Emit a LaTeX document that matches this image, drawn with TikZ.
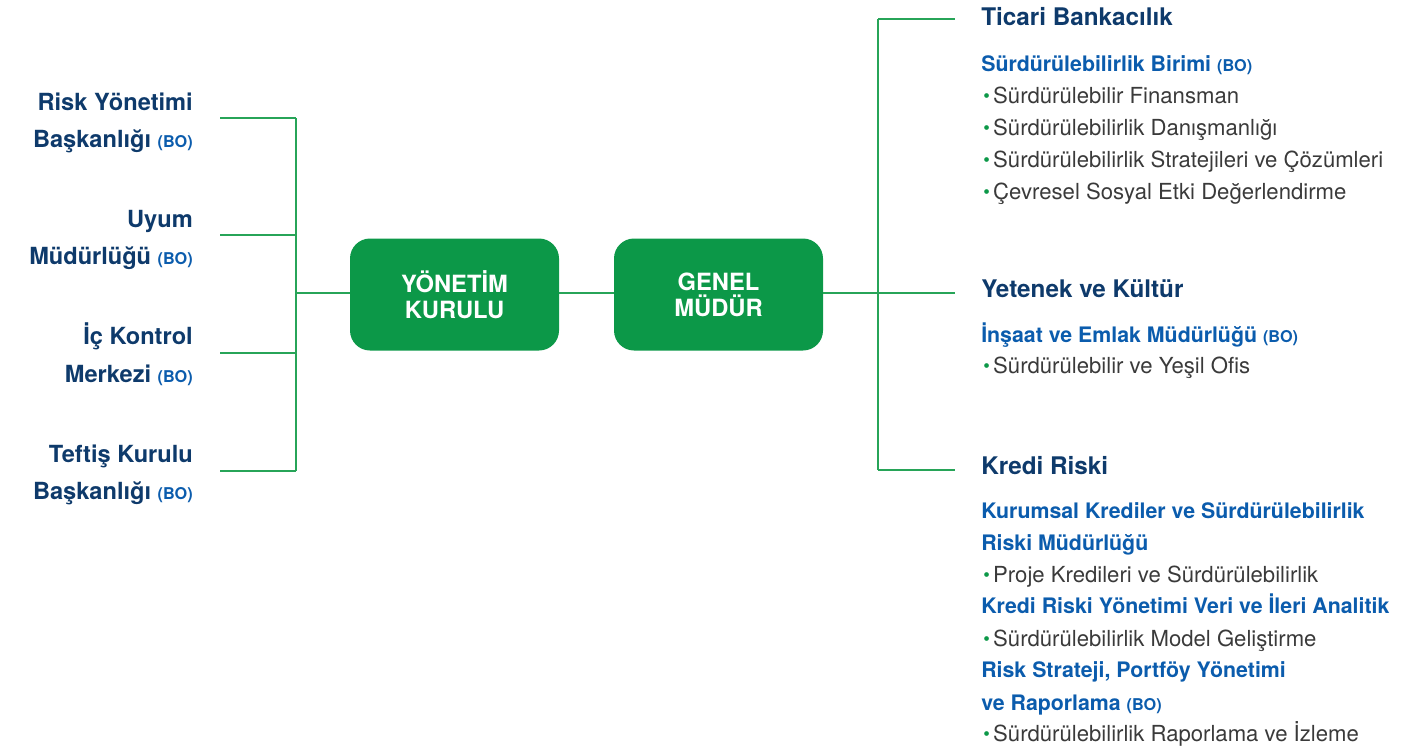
\documentclass[tikz,border=0pt]{standalone}
\usepackage{fontspec}
\setmainfont{TeX Gyre Heros}
\definecolor{navy}{HTML}{0E3A6B}
\definecolor{subblue}{HTML}{0B5CAD}
\definecolor{boxgreen}{HTML}{0C9848}
\definecolor{linegreen}{HTML}{27A458}
\definecolor{bodytext}{HTML}{3A3A3A}
\newcommand\myBO{{\fontsize{12.2}{12.2}\selectfont\bfseries\color{subblue}(BO)}}
\newcommand\myBul{{\color{boxgreen}\raisebox{0.05ex}{\scalebox{0.85}{•}}}\hspace{2.5pt}}
\tikzset{
  hdl/.style={font=\fontsize{17.7}{17.7}\selectfont\bfseries, text=navy, inner sep=0pt, anchor=base east},
  hdr/.style={font=\fontsize{18.2}{18.2}\selectfont\bfseries, text=navy, inner sep=0pt, anchor=base west},
  subhd/.style={font=\fontsize{16}{16}\selectfont\bfseries, text=subblue, inner sep=0pt, anchor=base west},
  itm/.style={font=\fontsize{16.6}{16.6}\selectfont, text=bodytext, inner sep=0pt, anchor=base west},
  gbox/.style={fill=boxgreen, rounded corners=15pt, minimum width=156.75pt, minimum height=84pt,
    text=white, font=\fontsize{17.8}{19.5}\selectfont\bfseries, align=center, inner sep=0pt},
  conn/.style={draw=linegreen, line width=1.1pt}
}
\begin{document}
\begin{tikzpicture}[x=0.75pt,y=-0.75pt]
\useasboundingbox (0,0) rectangle (1418,747);

% left texts
\node[hdl] (L1a) at (193,110) {Risk Yönetimi};
\node[hdl] (L1b) at (193,147) {Başkanlığı \myBO};
\node[hdl] (L2a) at (193,227) {Uyum};
\node[hdl] (L2b) at (193,264) {Müdürlüğü \myBO};
\node[hdl] (L3a) at (193,344) {İç Kontrol};
\node[hdl] (L3b) at (193,382) {Merkezi \myBO};
\node[hdl] (L4a) at (193,462) {Teftiş Kurulu};
\node[hdl] (L4b) at (193,499) {Başkanlığı \myBO};

% boxes
\node[gbox] (yk) at (454.5,294.5) {YÖNETİM\\KURULU};
\node[gbox] (gm) at (718.5,294.5) {GENEL\\MÜDÜR};

% left connectors
\coordinate (a1) at (220,118);
\coordinate (a2) at (220,235);
\coordinate (a3) at (220,353);
\coordinate (a4) at (220,471);
\coordinate (j1) at (296,118);
\coordinate (j2) at (296,235);
\coordinate (j3) at (296,353);
\coordinate (j4) at (296,471);
\coordinate (jm) at (296,293);
\draw[conn] (a1) -- (j1);
\draw[conn] (a2) -- (j2);
\draw[conn] (a3) -- (j3);
\draw[conn] (a4) -- (j4);
\draw[conn] (j1) -- (j4);
\draw[conn] (jm) -- (jm -| yk.west);
\draw[conn] (yk.east |- jm) -- (gm.west |- jm);

% right connectors
\coordinate (r1) at (878,19);
\coordinate (r3) at (878,470);
\coordinate (e1) at (955,19);
\coordinate (e2) at (955,293);
\coordinate (e3) at (955,470);
\draw[conn] (gm.east |- e2) -- (e2);
\draw[conn] (r1) -- (r3);
\draw[conn] (r1) -- (e1);
\draw[conn] (r3) -- (e3);

% right texts
\node[hdr] (R1) at (981,25) {Ticari Bankacılık};
\node[subhd] (R1s) at (981,71) {Sürdürülebilirlik Birimi \myBO};
\node[itm] (R1i1) at (983,103) {\myBul Sürdürülebilir Finansman};
\node[itm] (R1i2) at (983,135) {\myBul Sürdürülebilirlik Danışmanlığı};
\node[itm] (R1i3) at (983,167) {\myBul Sürdürülebilirlik Stratejileri ve Çözümleri};
\node[itm] (R1i4) at (983,199) {\myBul Çevresel Sosyal Etki Değerlendirme};

\node[hdr] (R2) at (981,297) {Yetenek ve Kültür};
\node[subhd] (R2s) at (981,342) {İnşaat ve Emlak Müdürlüğü \myBO};
\node[itm] (R2i1) at (983,373) {\myBul Sürdürülebilir ve Yeşil Ofis};

\node[hdr] (R3) at (981,474) {Kredi Riski};
\node[subhd] (R3s1a) at (981,518) {Kurumsal Krediler ve Sürdürülebilirlik};
\node[subhd] (R3s1b) at (981,550) {Riski Müdürlüğü};
\node[itm] (R3i1) at (983,582) {\myBul Proje Kredileri ve Sürdürülebilirlik};
\node[subhd] (R3s2) at (981,613) {Kredi Riski Yönetimi Veri ve İleri Analitik};
\node[itm] (R3i2) at (983,646) {\myBul Sürdürülebilirlik Model Geliştirme};
\node[subhd] (R3s3a) at (981,677) {Risk Strateji, Portföy Yönetimi};
\node[subhd] (R3s3b) at (981,710) {ve Raporlama \myBO};
\node[itm] (R3i3) at (983,741) {\myBul Sürdürülebilirlik Raporlama ve İzleme};
\end{tikzpicture}
\end{document}
